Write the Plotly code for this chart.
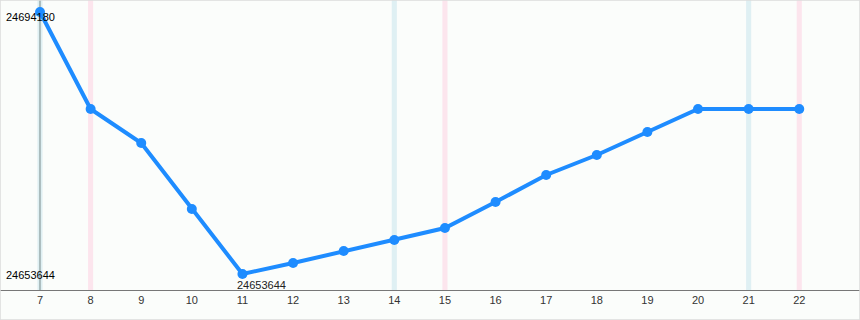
import plotly.graph_objects as go

days = [7, 8, 9, 10, 11, 12, 13, 14, 15, 16, 17, 18, 19, 20, 21, 22]
values = [24694180, 24679173, 24673912, 24663701, 24653644, 24655346, 24657202,
          24658904, 24660761, 24664784, 24668961, 24672055, 24675614, 24679173,
          24679173, 24679173]
blue_days = [7, 14, 21]
pink_days = [8, 15, 22]
max_label = "24694180"
min_label = "24653644"

W, H = 860, 320
x_range = [6.21, 23.2]
y_range = [24651168, 24696037]

fig = go.Figure()

shapes = []
for d in blue_days:
    shapes.append(dict(type="rect", xref="x", yref="paper", x0=d - 0.05, x1=d + 0.05,
                       y0=0, y1=1, fillcolor="rgba(173,216,230,0.35)", line_width=0,
                       layer="below"))
for d in pink_days:
    shapes.append(dict(type="rect", xref="x", yref="paper", x0=d - 0.05, x1=d + 0.05,
                       y0=0, y1=1, fillcolor="rgba(255,182,213,0.35)", line_width=0,
                       layer="below"))
# vertical gray line at first day
shapes.append(dict(type="line", xref="x", yref="paper", x0=days[0], x1=days[0],
                   y0=0, y1=1, line=dict(color="#7a8a8a", width=1), layer="below"))
# outer border
shapes.append(dict(type="rect", xref="paper", yref="paper", x0=0, x1=1,
                   y0=-30 / 290, y1=1, line=dict(color="#dcdcdc", width=1.5),
                   fillcolor="rgba(0,0,0,0)"))

fig.add_trace(go.Scatter(
    x=days, y=values, mode="lines+markers",
    line=dict(color="#1e8cff", width=4),
    marker=dict(color="#1e8cff", size=10),
    hoverinfo="skip", showlegend=False,
))

vmax = max(values)
vmin = min(values)
imin = values.index(vmin)

annotations = [
    dict(x=0.005, xref="paper", y=vmax, yref="y", text=max_label, showarrow=False,
         xanchor="left", yanchor="middle", yshift=-5,
         font=dict(family="Arial, Liberation Sans", size=11, color="#000")),
    dict(x=0.005, xref="paper", y=vmin, yref="y", text=min_label, showarrow=False,
         xanchor="left", yanchor="middle", yshift=-1,
         font=dict(family="Arial, Liberation Sans", size=11, color="#000")),
    dict(x=days[imin], xref="x", y=vmin, yref="y", text=min_label, showarrow=False,
         xanchor="left", yanchor="top", xshift=-7, yshift=-3,
         font=dict(family="Arial, Liberation Sans", size=11, color="#222")),
]

fig.update_layout(
    width=W, height=H,
    margin=dict(l=0, r=0, t=0, b=30),
    paper_bgcolor="#fbfdfb",
    plot_bgcolor="#fbfdfb",
    shapes=shapes,
    annotations=annotations,
    xaxis=dict(range=x_range, tickmode="array", tickvals=days,
               ticktext=[str(d) for d in days], showgrid=False, zeroline=False,
               showline=True, linecolor="#777", linewidth=1, ticks="",
               tickfont=dict(family="Arial, Liberation Sans", size=11, color="#333"),
               fixedrange=True),
    yaxis=dict(range=y_range, showgrid=False, zeroline=False, showticklabels=False,
               showline=False, fixedrange=True),
)

fig.write_html("out.html", config=dict(displayModeBar=False))
